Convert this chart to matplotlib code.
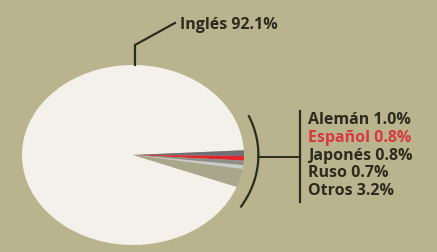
import numpy as np
import matplotlib
matplotlib.use('Agg')
import matplotlib.pyplot as plt
from matplotlib.patches import Arc

# share of languages (%)
idiomas = ['Inglés', 'Alemán', 'Español', 'Japonés', 'Ruso', 'Otros']
porcentajes = [92.1, 1.0, 0.8, 0.8, 0.7, 3.2]
colores = ['#f3f1ea', '#6f6f78', '#e4242d', '#8f8f8a', '#c9ccc8', '#a9a78b']
color_texto = ['#2b2b1e', '#2b2b1e', '#d8393c', '#2b2b1e', '#2b2b1e', '#2b2b1e']

fondo = '#b9b48e'
oscuro = '#2b2b1e'

fig = plt.figure(figsize=(4.37, 2.52), dpi=100, facecolor=fondo)
ax = fig.add_axes([0, 0, 1, 1])
ax.set_facecolor(fondo)

# small slices centred a little below the horizontal
pequenos = sum(porcentajes[1:]) * 3.6
inicio = -4 + pequenos / 2 - 360 + porcentajes[0] * 3.6
ax.pie(porcentajes, colors=colores, startangle=inicio, counterclock=False,
       radius=1, center=(0, 0), wedgeprops=dict(linewidth=0))
ax.set_aspect('auto')
ax.set_xlim(-1.198, 2.739)
ax.set_ylim(-1.078, 1.722)
ax.axis('off')

fuente = 'Open Sans'
tam = 11.5

# Inglés label with leader line
ax.plot([0.378, 0.018, 0.018], [1.467, 1.222, 1.0], color=oscuro, lw=1.6,
        solid_joinstyle='miter')
ax.text(0.423, 1.444, f'{idiomas[0]} {porcentajes[0]:.1f}%', fontsize=tam,
        fontweight='bold', family=fuente, color=color_texto[0], va='center', ha='left')

# bracket for the small slices
ax.add_patch(Arc((0, 0), 2.26, 2.26, theta1=-31, theta2=23, color=oscuro, lw=1.6))
ax.plot([1.13, 1.486], [-0.022, -0.022], color=oscuro, lw=1.4)
ax.plot([1.505, 1.505], [0.489, -0.522], color=oscuro, lw=1.6)

ys = [0.389, 0.189, -0.011, -0.2, -0.4]
for i, y in enumerate(ys):
    k = i + 1
    ax.text(1.577, y, f'{idiomas[k]} {porcentajes[k]:.1f}%', fontsize=tam,
            fontweight='bold', family=fuente, color=color_texto[k],
            va='center', ha='left')

fig.savefig('out.png', dpi=100, facecolor=fondo)
